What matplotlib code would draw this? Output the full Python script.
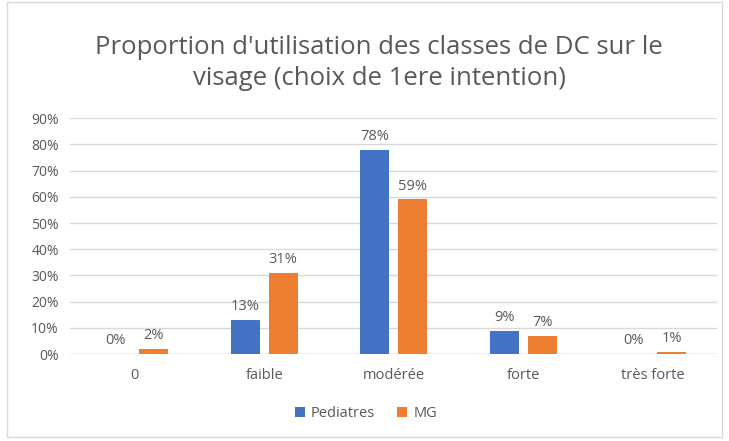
import numpy as np
import matplotlib.pyplot as plt

categories = ['0', 'faible', 'modérée', 'forte', 'très forte']
pediatres = [0, 13, 78, 9, 0]
mg = [2, 31, 59, 7, 1]
yticks = [0, 10, 20, 30, 40, 50, 60, 70, 80, 90]

plt.rcParams['font.family'] = ['Open Sans', 'DejaVu Sans']
txt = '#595959'

fig = plt.figure(figsize=(7.29, 4.41), dpi=100)
fig.patches.append(plt.Rectangle((0.009, 0.01), 0.982, 0.985, transform=fig.transFigure,
                                 fill=False, edgecolor='#D9D9D9', linewidth=1))
ax = fig.add_axes([0.096, 0.197, 0.888, 0.535])

x = np.arange(len(categories))
w = 0.224
off = 0.147
b1 = ax.bar(x - off, pediatres, w, color='#4472C4', label='Pediatres', zorder=3)
b2 = ax.bar(x + off, mg, w, color='#ED7D31', label='MG', zorder=3)
for bars, vals in ((b1, pediatres), (b2, mg)):
    for b, v in zip(bars, vals):
        ax.text(b.get_x() + b.get_width() / 2, v + 2.2, f'{v}%', ha='center', va='bottom',
                fontsize=10.5, color=txt)

ax.set_xlim(-0.5, 4.5)
ax.set_ylim(0, 90)
ax.set_yticks(yticks)
ax.set_yticklabels([f'{t}%' for t in yticks], fontsize=10, color=txt)
ax.set_xticks(x)
ax.set_xticklabels(categories, fontsize=10.5, color=txt)
ax.tick_params(length=0, pad=8)
ax.tick_params(axis='x', pad=10)
ax.grid(axis='y', color='#D9D9D9', linewidth=1, zorder=0)
for s in ax.spines.values():
    s.set_visible(False)
ax.axhline(0, color='#D9D9D9', linewidth=1, zorder=1)

fig.text(0.52, 0.857, "Proportion d'utilisation des classes de DC sur le\nvisage (choix de 1ere intention)",
         ha='center', va='center', fontsize=18.5, color=txt, linespacing=1.3)
fig.legend(loc='center', bbox_to_anchor=(0.502, 0.063), ncol=2, frameon=False, fontsize=10.5,
           handlelength=0.7, handleheight=0.7, handletextpad=0.4, columnspacing=1.5,
           labelcolor=txt)

fig.savefig('out.png', dpi=100)
